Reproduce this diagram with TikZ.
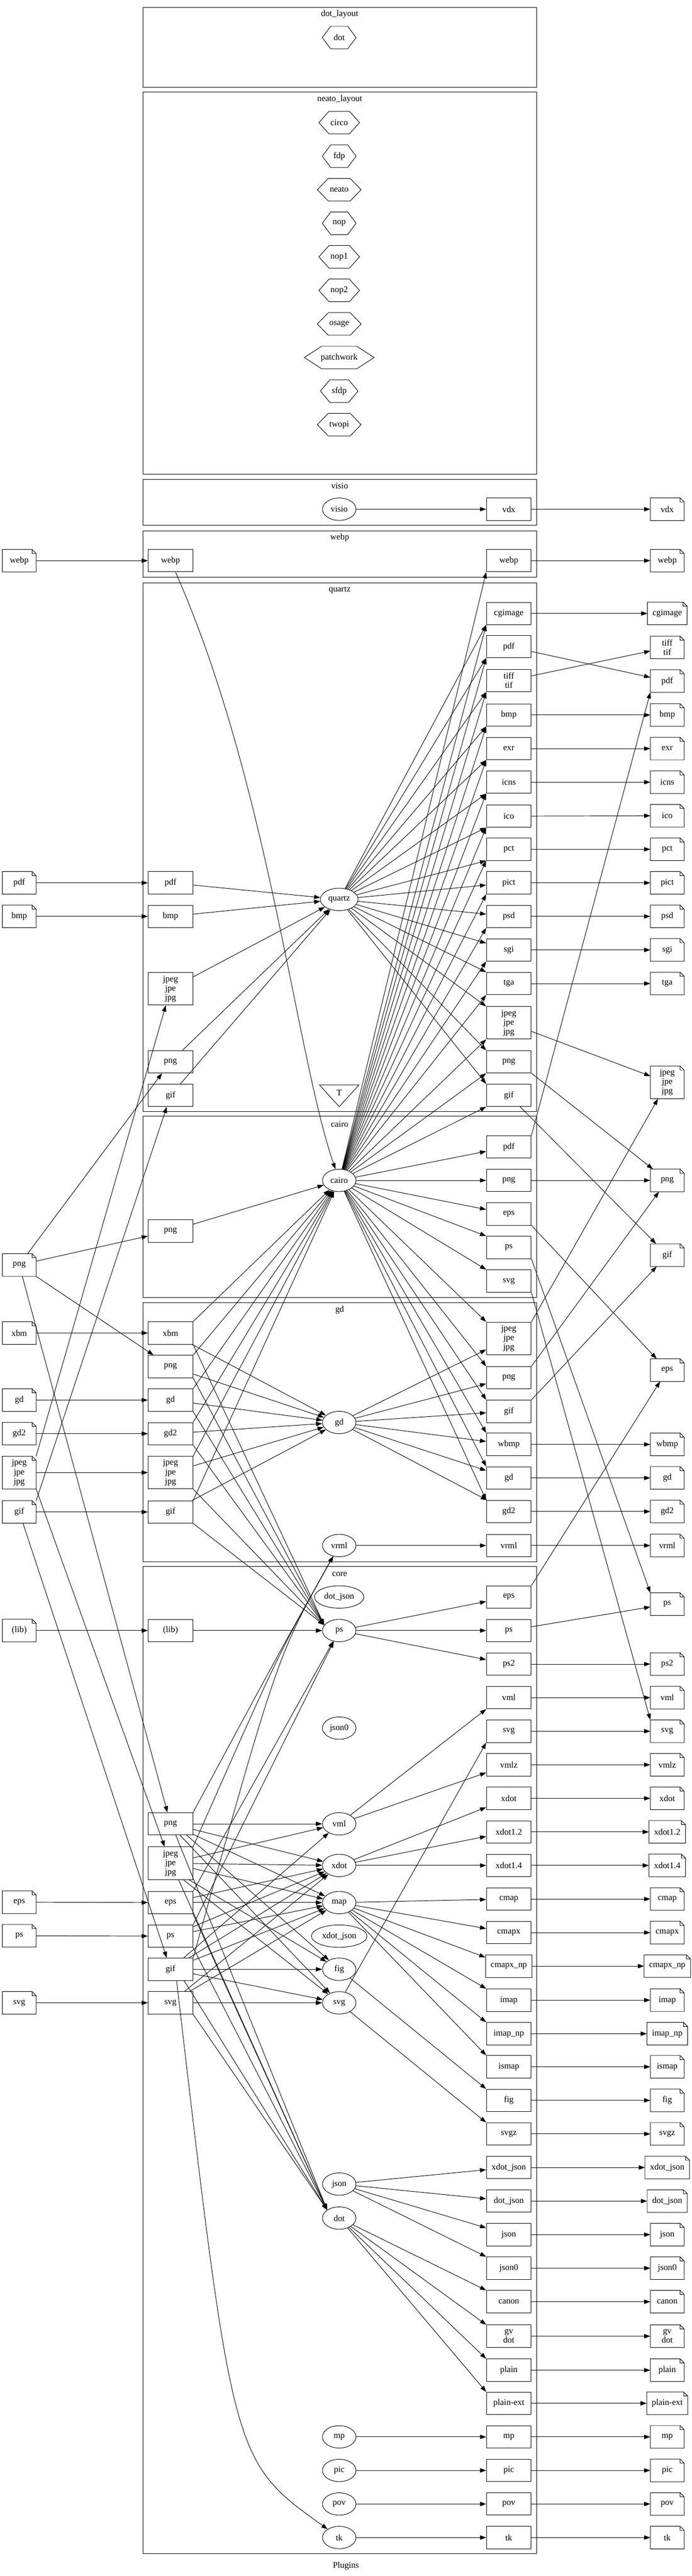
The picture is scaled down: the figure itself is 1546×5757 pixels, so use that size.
\documentclass[tikz,border=0pt]{standalone}
\usepackage{fontspec}
\setmainfont{Liberation Serif}
\usetikzlibrary{shapes}
\usetikzlibrary{calc}
\usetikzlibrary{arrows.meta}
\newcommand{\gvfont}{\fontsize{14pt}{15pt}\selectfont}
\tikzset{
    mybox/.style = {rectangle, draw=black, line width=0.8pt, minimum width=72pt, minimum height=36pt, inner xsep=8pt, inner ysep=5pt, align=center},
    myell/.style = {ellipse, draw=black, line width=0.8pt, minimum width=54pt, minimum height=36pt, inner xsep=4pt},
    mynote/.style = {rectangle, minimum width=54pt, minimum height=36pt, inner xsep=8pt, inner ysep=5pt, align=center,
        append after command={\pgfextra{\draw[line width=0.8pt]
            (\tikzlastnode.south west) -- (\tikzlastnode.north west) -- ([xshift=-6.5pt]\tikzlastnode.north east)
            -- ([yshift=-6.5pt]\tikzlastnode.north east) -- (\tikzlastnode.south east) -- cycle
            ([xshift=-6.5pt]\tikzlastnode.north east) |- ([yshift=-6.5pt]\tikzlastnode.north east);}}},
    myhex/.style = {rectangle, minimum width=#1, minimum height=36pt, inner sep=0pt,
        append after command={\pgfextra{\draw[line width=0.8pt]
            (\tikzlastnode.west) -- ($(\tikzlastnode.north west)!0.25!(\tikzlastnode.north east)$)
            -- ($(\tikzlastnode.north west)!0.75!(\tikzlastnode.north east)$) -- (\tikzlastnode.east)
            -- ($(\tikzlastnode.south west)!0.75!(\tikzlastnode.south east)$)
            -- ($(\tikzlastnode.south west)!0.25!(\tikzlastnode.south east)$) -- cycle;}}},
    mytri/.style = {rectangle, minimum width=63pt, minimum height=34.5pt, inner sep=0pt,
        append after command={\pgfextra{\draw[line width=0.8pt]
            (\tikzlastnode.north west) -- (\tikzlastnode.north east) -- (\tikzlastnode.south) -- cycle;}}},
    mycluster/.style = {line width=0.8pt},
    edgen/.style = {-{Triangle[length=10pt,width=7pt]}, line width=0.8pt},
    every node/.style = {font=\gvfont},
}

\begin{document}
\begin{tikzpicture}[x=0.72pt,y=-0.72pt]
\useasboundingbox (0,0) rectangle (1546,5757);
% clusters
\draw[mycluster] (320,17) rectangle (1199,195);
\draw[mycluster] (320,206) rectangle (1199,1060);
\draw[mycluster] (320,1071) rectangle (1199,1174);
\draw[mycluster] (320,1186) rectangle (1199,1290);
\draw[mycluster] (320,1303) rectangle (1199,2484);
\draw[mycluster] (320,2495) rectangle (1199,2900);
\draw[mycluster] (320,2911) rectangle (1199,3490);
\draw[mycluster] (320,3501) rectangle (1199,5707);
\node at (759,32) (cdotlayout) {dot\_layout};
\node at (759,222) (cneato) {neato\_layout};
\node at (759,1086) (cvisio) {visio};
\node at (759,1201) (cwebp) {webp};
\node at (759,1319) (cquartz) {quartz};
\node at (759,2512) (ccairo) {cairo};
\node at (759,2927) (cgd) {gd};
\node at (759,3518) (ccore) {core};
\node at (773,5734) (title) {Plugins};
% layouts
\node[myhex=54pt] at (758,84) (ydot) {dot};
\node[myhex=65pt] at (758,274) (ycirco) {circo};
\node[myhex=54pt] at (758,349) (yfdp) {fdp};
\node[myhex=70pt] at (758,424) (yneato) {neato};
\node[myhex=54pt] at (758,499) (ynop) {nop};
\node[myhex=65pt] at (758,574) (ynop1) {nop1};
\node[myhex=65pt] at (758,649) (ynop2) {nop2};
\node[myhex=70pt] at (758,724) (yosage) {osage};
\node[myhex=112pt] at (758,799) (ypatchwork) {patchwork};
\node[myhex=60pt] at (758,874) (ysfdp) {sfdp};
\node[myhex=70pt] at (758,949) (ytwopi) {twopi};
% input files
\node[mynote] at (43,1253) (fwebp) {webp};
\node[mynote] at (43,1973) (fpdf) {pdf};
\node[mynote] at (43,2048) (fbmp) {bmp};
\node[mynote] at (43,2827) (fpng) {png};
\node[mynote] at (43,2979) (fxbm) {xbm};
\node[mynote] at (43,3129) (fgd) {gd};
\node[mynote] at (43,3204) (fgd2) {gd2};
\node[mynote] at (43,3291) (fjpeg) {jpeg\\jpe\\jpg};
\node[mynote] at (43,3379) (fgif) {gif};
\node[mynote] at (43,3644) (flib) {(lib)};
\node[mynote] at (43,4251) (feps) {eps};
\node[mynote] at (43,4326) (fps) {ps};
\node[mynote] at (43,4476) (fsvg) {svg};
% loaders
\node[mybox] at (381,1253) (lwebp) {webp};
\node[mybox] at (381,1973) (lqpdf) {pdf};
\node[mybox] at (381,2048) (lqbmp) {bmp};
\node[mybox] at (381,2210) (lqjpeg) {jpeg\\jpe\\jpg};
\node[mybox] at (381,2373) (lqpng) {png};
\node[mybox] at (381,2448) (lqgif) {gif};
\node[mybox] at (381,2751) (lcpng) {png};
\node[mybox] at (381,2979) (lgxbm) {xbm};
\node[mybox] at (381,3054) (lgpng) {png};
\node[mybox] at (381,3129) (lggd) {gd};
\node[mybox] at (381,3204) (lggd2) {gd2};
\node[mybox] at (381,3291) (lgjpeg) {jpeg\\jpe\\jpg};
\node[mybox] at (381,3379) (lggif) {gif};
\node[mybox] at (381,3644) (lklib) {(lib)};
\node[mybox] at (381,4076) (lkpng) {png};
\node[mybox] at (381,4164) (lkjpeg) {jpeg\\jpe\\jpg};
\node[mybox] at (381,4252) (lkeps) {eps};
\node[mybox] at (381,4327) (lkps) {ps};
\node[mybox] at (381,4401) (lkgif) {gif};
\node[mybox] at (381,4476) (lksvg) {svg};
% renderers
\node[myell] at (758,1138) (rvisio) {visio};
\node[myell] at (758,2010) (rquartz) {quartz};
\node[mytri, label={[yshift=5pt]center:T}] at (758,2449) (T) {};
\node[myell] at (758,2638) (rcairo) {cairo};
\node[myell] at (758,3179) (rgd) {gd};
\node[myell] at (758,3454) (rvrml) {vrml};
\node[myell] at (758,3569) (rdotjson) {dot\_json};
\node[myell] at (758,3644) (rps) {ps};
\node[myell] at (758,3862) (rjson0) {json0};
\node[myell] at (758,4076) (rvml) {vml};
\node[myell] at (758,4169) (rxdot) {xdot};
\node[myell] at (758,4252) (rmap) {map};
\node[myell] at (758,4327) (rxdotjson) {xdot\_json};
\node[myell] at (758,4401) (rfig) {fig};
\node[myell] at (758,4476) (rsvg) {svg};
\node[myell] at (758,4881) (rjson) {json};
\node[myell] at (758,4957) (rdot) {dot};
\node[myell] at (758,5446) (rmp) {mp};
\node[myell] at (758,5521) (rpic) {pic};
\node[myell] at (758,5596) (rpov) {pov};
\node[myell] at (758,5671) (rtk) {tk};
% devices
\node[mybox] at (1137,1138) (dvdx) {vdx};
\node[mybox] at (1137,1253) (dwebp) {webp};
\node[mybox] at (1137,1371) (dqcgimage) {cgimage};
\node[mybox] at (1137,1445) (dqpdf) {pdf};
\node[mybox] at (1137,1521) (dqtiff) {tiff\\tif};
\node[mybox] at (1137,1598) (dqbmp) {bmp};
\node[mybox] at (1137,1673) (dqexr) {exr};
\node[mybox] at (1137,1748) (dqicns) {icns};
\node[mybox] at (1137,1824) (dqico) {ico};
\node[mybox] at (1137,1898) (dqpct) {pct};
\node[mybox] at (1137,1973) (dqpict) {pict};
\node[mybox] at (1137,2048) (dqpsd) {psd};
\node[mybox] at (1137,2123) (dqsgi) {sgi};
\node[mybox] at (1137,2198) (dqtga) {tga};
\node[mybox] at (1137,2286) (dqjpeg) {jpeg\\jpe\\jpg};
\node[mybox] at (1137,2373) (dqpng) {png};
\node[mybox] at (1137,2448) (dqgif) {gif};
\node[mybox] at (1137,2563) (dcpdf) {pdf};
\node[mybox] at (1137,2638) (dcpng) {png};
\node[mybox] at (1137,2713) (dceps) {eps};
\node[mybox] at (1137,2788) (dcps) {ps};
\node[mybox] at (1137,2863) (dcsvg) {svg};
\node[mybox] at (1137,2991) (dgjpeg) {jpeg\\jpe\\jpg};
\node[mybox] at (1137,3079) (dgpng) {png};
\node[mybox] at (1137,3154) (dggif) {gif};
\node[mybox] at (1137,3228) (dgwbmp) {wbmp};
\node[mybox] at (1137,3303) (dggd) {gd};
\node[mybox] at (1137,3378) (dggd2) {gd2};
\node[mybox] at (1137,3454) (dgvrml) {vrml};
\node[mybox] at (1137,3569) (dkeps) {eps};
\node[mybox] at (1137,3644) (dkps) {ps};
\node[mybox] at (1137,3719) (dkps2) {ps2};
\node[mybox] at (1137,3794) (dkvml) {vml};
\node[mybox] at (1137,3869) (dksvg) {svg};
\node[mybox] at (1137,3944) (dkvmlz) {vmlz};
\node[mybox] at (1137,4019) (dkxdot) {xdot};
\node[mybox] at (1137,4094) (dkxdot12) {xdot1.2};
\node[mybox] at (1137,4169) (dkxdot14) {xdot1.4};
\node[mybox] at (1137,4244) (dkcmap) {cmap};
\node[mybox] at (1137,4319) (dkcmapx) {cmapx};
\node[mybox] at (1137,4394) (dkcmapxnp) {cmapx\_np};
\node[mybox] at (1137,4470) (dkimap) {imap};
\node[mybox] at (1137,4545) (dkimapnp) {imap\_np};
\node[mybox] at (1137,4619) (dkismap) {ismap};
\node[mybox] at (1137,4694) (dkfig) {fig};
\node[mybox] at (1137,4769) (dksvgz) {svgz};
\node[mybox] at (1137,4844) (dkxdotjson) {xdot\_json};
\node[mybox] at (1137,4919) (dkdotjson) {dot\_json};
\node[mybox] at (1137,4994) (dkjson) {json};
\node[mybox] at (1137,5069) (dkjson0) {json0};
\node[mybox] at (1137,5144) (dkcanon) {canon};
\node[mybox] at (1137,5221) (dkgv) {gv\\dot};
\node[mybox] at (1137,5297) (dkplain) {plain};
\node[mybox] at (1137,5371) (dkplainext) {plain-ext};
\node[mybox] at (1137,5446) (dkmp) {mp};
\node[mybox] at (1137,5521) (dkpic) {pic};
\node[mybox] at (1137,5596) (dkpov) {pov};
\node[mybox] at (1137,5671) (dktk) {tk};
% output files
\node[mynote] at (1491,1138) (ovdx) {vdx};
\node[mynote] at (1491,1253) (owebp) {webp};
\node[mynote] at (1491,1371) (ocgimage) {cgimage};
\node[mynote] at (1491,1447) (otiff) {tiff\\tif};
\node[mynote] at (1491,1522) (opdf) {pdf};
\node[mynote] at (1491,1598) (obmp) {bmp};
\node[mynote] at (1491,1673) (oexr) {exr};
\node[mynote] at (1491,1748) (oicns) {icns};
\node[mynote] at (1491,1823) (oico) {ico};
\node[mynote] at (1491,1898) (opct) {pct};
\node[mynote] at (1491,1973) (opict) {pict};
\node[mynote] at (1491,2048) (opsd) {psd};
\node[mynote] at (1491,2123) (osgi) {sgi};
\node[mynote] at (1491,2198) (otga) {tga};
\node[mynote] at (1491,2419) (ojpeg) {jpeg\\jpe\\jpg};
\node[mynote] at (1491,2638) (opng) {png};
\node[mynote] at (1491,2805) (ogif) {gif};
\node[mynote] at (1491,3062) (oeps) {eps};
\node[mynote] at (1491,3228) (owbmp) {wbmp};
\node[mynote] at (1491,3303) (ogd) {gd};
\node[mynote] at (1491,3378) (ogd2) {gd2};
\node[mynote] at (1491,3454) (ovrml) {vrml};
\node[mynote] at (1491,3585) (ops) {ps};
\node[mynote] at (1491,3719) (ops2) {ps2};
\node[mynote] at (1491,3794) (ovml) {vml};
\node[mynote] at (1491,3869) (osvg) {svg};
\node[mynote] at (1491,3944) (ovmlz) {vmlz};
\node[mynote] at (1491,4019) (oxdot) {xdot};
\node[mynote] at (1491,4094) (oxdot12) {xdot1.2};
\node[mynote] at (1491,4169) (oxdot14) {xdot1.4};
\node[mynote] at (1491,4244) (ocmap) {cmap};
\node[mynote] at (1491,4319) (ocmapx) {cmapx};
\node[mynote] at (1491,4394) (ocmapxnp) {cmapx\_np};
\node[mynote] at (1491,4470) (oimap) {imap};
\node[mynote] at (1491,4545) (oimapnp) {imap\_np};
\node[mynote] at (1491,4619) (oismap) {ismap};
\node[mynote] at (1491,4694) (ofig) {fig};
\node[mynote] at (1491,4769) (osvgz) {svgz};
\node[mynote] at (1491,4844) (oxdotjson) {xdot\_json};
\node[mynote] at (1491,4919) (odotjson) {dot\_json};
\node[mynote] at (1491,4994) (ojson) {json};
\node[mynote] at (1491,5069) (ojson0) {json0};
\node[mynote] at (1491,5144) (ocanon) {canon};
\node[mynote] at (1491,5221) (ogv) {gv\\dot};
\node[mynote] at (1491,5297) (oplain) {plain};
\node[mynote] at (1491,5371) (oplainext) {plain-ext};
\node[mynote] at (1491,5446) (omp) {mp};
\node[mynote] at (1491,5521) (opic) {pic};
\node[mynote] at (1491,5596) (opov) {pov};
\node[mynote] at (1491,5671) (otk) {tk};
%
% files to loaders
\draw[edgen] (fwebp) -- (lwebp);
\draw[edgen] (fpdf) -- (lqpdf);
\draw[edgen] (fbmp) -- (lqbmp);
\draw[edgen] (fjpeg.north east) -- (lqjpeg);
\draw[edgen] (fpng) -- (lqpng);
\draw[edgen] (fgif.north east) -- (lqgif);
\draw[edgen] (fpng) -- (lcpng);
\draw[edgen] (fxbm) -- (lgxbm);
\draw[edgen] (fpng) -- (lgpng);
\draw[edgen] (fgd) -- (lggd);
\draw[edgen] (fgd2) -- (lggd2);
\draw[edgen] (fjpeg) -- (lgjpeg);
\draw[edgen] (fgif) -- (lggif);
\draw[edgen] (flib) -- (lklib);
\draw[edgen] (fpng) -- (lkpng);
\draw[edgen] (fjpeg.south east) -- (lkjpeg);
\draw[edgen] (feps) -- (lkeps);
\draw[edgen] (fps) -- (lkps);
\draw[edgen] (fgif) -- (lkgif);
\draw[edgen] (fsvg) -- (lksvg);
% loaders to renderers
\draw[edgen] (lwebp) .. controls (600,1750) and (660,2350) .. (rcairo);
\draw[edgen] (lqpdf) -- (rquartz);
\draw[edgen] (lqbmp) -- (rquartz);
\draw[edgen] (lqjpeg) -- (rquartz);
\draw[edgen] (lqpng) -- (rquartz);
\draw[edgen] (lqgif) -- (rquartz);
\draw[edgen] (lcpng) -- (rcairo);
\draw[edgen] (lgxbm) -- (rgd);
\draw[edgen] (lgpng) -- (rgd);
\draw[edgen] (lggd) -- (rgd);
\draw[edgen] (lggd2) -- (rgd);
\draw[edgen] (lgjpeg) -- (rgd);
\draw[edgen] (lggif) -- (rgd);
\draw[edgen] (lgxbm.north east) -- (rcairo);
\draw[edgen] (lgpng.north east) -- (rcairo);
\draw[edgen] (lggd.north east) -- (rcairo);
\draw[edgen] (lggd2.north east) -- (rcairo);
\draw[edgen] (lgjpeg.north east) -- (rcairo);
\draw[edgen] (lggif.north east) -- (rcairo);
\draw[edgen] (lgxbm.south east) -- (rps.160);
\draw[edgen] (lgpng.south east) -- (rps.160);
\draw[edgen] (lggd.south east) -- (rps.160);
\draw[edgen] (lggd2.south east) -- (rps.160);
\draw[edgen] (lgjpeg.south east) -- (rps.160);
\draw[edgen] (lggif.south east) -- (rps.160);
\draw[edgen] (lklib) -- (rps);
\draw[edgen] (lkeps.north east) -- (rps);
\draw[edgen] (lkps.north east) -- (rps);
\draw[edgen] (lkpng.north east) .. controls (620,3700) .. (rvrml);
\draw[edgen] (lkjpeg.north east) .. controls (620,3700) .. (rvrml);
\draw[edgen] (lkgif.north east) .. controls (620,3700) .. (rvrml);
\draw[edgen] (lkpng) -- (rvml);
\draw[edgen] (lkjpeg) -- (rvml);
\draw[edgen] (lkgif) -- (rvml);
\draw[edgen] (lkpng) -- (rxdot);
\draw[edgen] (lkjpeg) -- (rxdot);
\draw[edgen] (lkeps) -- (rxdot);
\draw[edgen] (lkps) -- (rxdot);
\draw[edgen] (lkgif) -- (rxdot);
\draw[edgen] (lksvg) -- (rxdot);
\draw[edgen] (lkpng) -- (rmap);
\draw[edgen] (lkjpeg) -- (rmap);
\draw[edgen] (lkeps) -- (rmap);
\draw[edgen] (lkps) -- (rmap);
\draw[edgen] (lkgif) -- (rmap);
\draw[edgen] (lksvg) -- (rmap);
\draw[edgen] (lkpng.-35) -- (rfig);
\draw[edgen] (lkjpeg.-42) -- (rfig);
\draw[edgen] (lkgif) -- (rfig);
\draw[edgen] (lkpng.-50) -- (rsvg);
\draw[edgen] (lkjpeg.-52) -- (rsvg);
\draw[edgen] (lkgif) -- (rsvg);
\draw[edgen] (lksvg) -- (rsvg);
\draw[edgen] (lkpng.-65) -- (rdot.north west);
\draw[edgen] (lkjpeg.-64) -- (rdot.north west);
\draw[edgen] (lkeps.south east) -- (rdot.north west);
\draw[edgen] (lkps.south east) -- (rdot.north west);
\draw[edgen] (lkgif.-40) -- (rdot.north west);
\draw[edgen] (lksvg.south east) -- (rdot.north west);
\draw[edgen] (lkgif.-62) .. controls (520,5500) .. (rtk);
% renderers to devices
\draw[edgen] (rvisio) -- (dvdx);
\draw[edgen] (rcairo) -- (dwebp.south west);
\draw[edgen] (rcairo) -- (dqcgimage.south west);
\draw[edgen] (rcairo) -- (dqpdf.south west);
\draw[edgen] (rcairo) -- (dqtiff.south west);
\draw[edgen] (rcairo) -- (dqbmp.south west);
\draw[edgen] (rcairo) -- (dqexr.south west);
\draw[edgen] (rcairo) -- (dqicns.south west);
\draw[edgen] (rcairo) -- (dqico.south west);
\draw[edgen] (rcairo) -- (dqpct.south west);
\draw[edgen] (rcairo) -- (dqpict.south west);
\draw[edgen] (rcairo) -- (dqpsd.south west);
\draw[edgen] (rcairo) -- (dqsgi.south west);
\draw[edgen] (rcairo) -- (dqtga.south west);
\draw[edgen] (rcairo) -- (dqjpeg.south west);
\draw[edgen] (rcairo) -- (dqpng.south west);
\draw[edgen] (rcairo) -- (dqgif.south west);
\draw[edgen] (rquartz) -- (dqcgimage.south west);
\draw[edgen] (rquartz) -- (dqpdf.south west);
\draw[edgen] (rquartz) -- (dqtiff.south west);
\draw[edgen] (rquartz) -- (dqbmp.south west);
\draw[edgen] (rquartz) -- (dqexr.south west);
\draw[edgen] (rquartz) -- (dqicns.south west);
\draw[edgen] (rquartz) -- (dqico.south west);
\draw[edgen] (rquartz) -- (dqpct.south west);
\draw[edgen] (rquartz) -- (dqpict);
\draw[edgen] (rquartz) -- (dqpsd);
\draw[edgen] (rquartz) -- (dqsgi);
\draw[edgen] (rquartz) -- (dqtga.north west);
\draw[edgen] (rquartz) -- (dqjpeg.north west);
\draw[edgen] (rquartz) -- (dqpng.north west);
\draw[edgen] (rquartz) -- (dqgif.north west);
\draw[edgen] (rcairo) -- (dcpdf);
\draw[edgen] (rcairo) -- (dcpng);
\draw[edgen] (rcairo) -- (dceps);
\draw[edgen] (rcairo) -- (dcps.north west);
\draw[edgen] (rcairo) -- (dcsvg.north west);
\draw[edgen] (rcairo) -- (dgjpeg.north west);
\draw[edgen] (rcairo) -- (dgpng.north west);
\draw[edgen] (rcairo) -- (dggif.north west);
\draw[edgen] (rcairo) -- (dgwbmp.north west);
\draw[edgen] (rcairo) -- (dggd.north west);
\draw[edgen] (rcairo) -- (dggd2.north west);
\draw[edgen] (rgd) -- (dgjpeg);
\draw[edgen] (rgd) -- (dgpng);
\draw[edgen] (rgd) -- (dggif);
\draw[edgen] (rgd) -- (dgwbmp);
\draw[edgen] (rgd) -- (dggd);
\draw[edgen] (rgd) -- (dggd2);
\draw[edgen] (rvrml) -- (dgvrml);
\draw[edgen] (rps) -- (dkeps);
\draw[edgen] (rps) -- (dkps);
\draw[edgen] (rps) -- (dkps2);
\draw[edgen] (rvml) -- (dkvml.south west);
\draw[edgen] (rvml) -- (dkvmlz);
\draw[edgen] (rsvg) -- (dksvg.south west);
\draw[edgen] (rsvg) -- (dksvgz.north west);
\draw[edgen] (rxdot) -- (dkxdot);
\draw[edgen] (rxdot) -- (dkxdot12);
\draw[edgen] (rxdot) -- (dkxdot14);
\draw[edgen] (rmap) -- (dkcmap);
\draw[edgen] (rmap) -- (dkcmapx);
\draw[edgen] (rmap) -- (dkcmapxnp);
\draw[edgen] (rmap) -- (dkimap.north west);
\draw[edgen] (rmap) -- (dkimapnp.north west);
\draw[edgen] (rmap) -- (dkismap.north west);
\draw[edgen] (rfig) -- (dkfig.north west);
\draw[edgen] (rjson) -- (dkxdotjson);
\draw[edgen] (rjson) -- (dkdotjson);
\draw[edgen] (rjson) -- (dkjson);
\draw[edgen] (rjson) -- (dkjson0.north west);
\draw[edgen] (rdot) -- (dkcanon.north west);
\draw[edgen] (rdot) -- (dkgv.north west);
\draw[edgen] (rdot) -- (dkplain.north west);
\draw[edgen] (rdot) -- (dkplainext.north west);
\draw[edgen] (rmp) -- (dkmp);
\draw[edgen] (rpic) -- (dkpic);
\draw[edgen] (rpov) -- (dkpov);
\draw[edgen] (rtk) -- (dktk);
% devices to output files
\draw[edgen] (dvdx) -- (ovdx);
\draw[edgen] (dwebp) -- (owebp);
\draw[edgen] (dqcgimage) -- (ocgimage);
\draw[edgen] (dqpdf) -- (opdf);
\draw[edgen] (dqtiff) -- (otiff);
\draw[edgen] (dqbmp) -- (obmp);
\draw[edgen] (dqexr) -- (oexr);
\draw[edgen] (dqicns) -- (oicns);
\draw[edgen] (dqico) -- (oico);
\draw[edgen] (dqpct) -- (opct);
\draw[edgen] (dqpict) -- (opict);
\draw[edgen] (dqpsd) -- (opsd);
\draw[edgen] (dqsgi) -- (osgi);
\draw[edgen] (dqtga) -- (otga);
\draw[edgen] (dqjpeg) -- (ojpeg);
\draw[edgen] (dqpng.south east) -- (opng);
\draw[edgen] (dqgif) -- (ogif);
\draw[edgen] (dcpdf.north east) -- (opdf.south west);
\draw[edgen] (dcpng) -- (opng);
\draw[edgen] (dceps.south east) -- (oeps);
\draw[edgen] (dcps.south east) -- (ops.north west);
\draw[edgen] (dcsvg.south east) -- (osvg.north west);
\draw[edgen] (dgjpeg.north east) -- (ojpeg);
\draw[edgen] (dgpng.north east) -- (opng);
\draw[edgen] (dggif.north east) -- (ogif);
\draw[edgen] (dgwbmp) -- (owbmp);
\draw[edgen] (dggd) -- (ogd);
\draw[edgen] (dggd2) -- (ogd2);
\draw[edgen] (dgvrml) -- (ovrml);
\draw[edgen] (dkeps.north east) -- (oeps);
\draw[edgen] (dkps) -- (ops);
\draw[edgen] (dkps2) -- (ops2);
\draw[edgen] (dkvml) -- (ovml);
\draw[edgen] (dksvg) -- (osvg);
\draw[edgen] (dkvmlz) -- (ovmlz);
\draw[edgen] (dkxdot) -- (oxdot);
\draw[edgen] (dkxdot12) -- (oxdot12);
\draw[edgen] (dkxdot14) -- (oxdot14);
\draw[edgen] (dkcmap) -- (ocmap);
\draw[edgen] (dkcmapx) -- (ocmapx);
\draw[edgen] (dkcmapxnp) -- (ocmapxnp);
\draw[edgen] (dkimap) -- (oimap);
\draw[edgen] (dkimapnp) -- (oimapnp);
\draw[edgen] (dkismap) -- (oismap);
\draw[edgen] (dkfig) -- (ofig);
\draw[edgen] (dksvgz) -- (osvgz);
\draw[edgen] (dkxdotjson) -- (oxdotjson);
\draw[edgen] (dkdotjson) -- (odotjson);
\draw[edgen] (dkjson) -- (ojson);
\draw[edgen] (dkjson0) -- (ojson0);
\draw[edgen] (dkcanon) -- (ocanon);
\draw[edgen] (dkgv) -- (ogv);
\draw[edgen] (dkplain) -- (oplain);
\draw[edgen] (dkplainext) -- (oplainext);
\draw[edgen] (dkmp) -- (omp);
\draw[edgen] (dkpic) -- (opic);
\draw[edgen] (dkpov) -- (opov);
\draw[edgen] (dktk) -- (otk);
\end{tikzpicture}
\end{document}
